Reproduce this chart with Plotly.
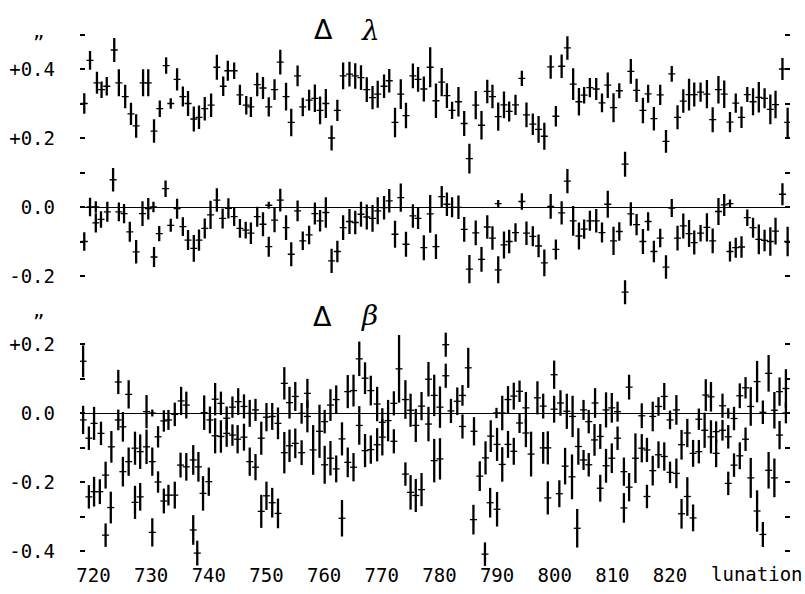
import plotly.graph_objects as go

# ---------------- Data ----------------
# Delta lambda, upper sequence
lam_up_lun = [718.4, 719.4, 720.6, 721.4, 722.3, 723.6, 724.4, 725.5, 726.5, 727.4, 728.6, 729.5, 730.5, 731.5,
              732.6, 733.4, 734.5, 735.5, 736.4, 737.4, 738.3, 739.3, 740.4, 741.4, 742.5, 743.3, 744.4, 745.4,
              746.5, 747.3, 748.4, 749.4, 750.4, 751.4, 752.4, 753.4, 754.3, 755.4, 756.3, 757.4, 758.4, 759.3,
              760.3, 761.3, 762.3, 763.3, 764.4, 765.4, 766.4, 767.4, 768.4, 769.3, 770.4, 771.3, 772.3, 773.3,
              774.2, 775.4, 776.3, 777.3, 778.4, 779.4, 780.4, 781.3, 782.2, 783.3, 784.3, 785.2, 786.3, 787.3,
              788.3, 789.2, 790.2, 791.2, 792.1, 793.2, 794.3, 795.1, 796.2, 797.2, 798.2, 799.3, 800.2, 801.2,
              802.2, 803.2, 804.2, 805.1, 806.1, 807.2, 808.2, 809.2, 810.2, 811.2, 812.2, 813.2, 814.2, 815.3,
              816.2, 817.2, 818.3, 819.3, 820.3, 821.3, 822.3, 823.3, 824.2, 825.3, 826.4, 827.4, 828.4, 829.4,
              830.4, 831.4, 832.4, 833.4, 834.4, 835.4, 836.4, 837.4, 838.3, 839.5, 840.4]
lam_up_val = [0.300, 0.425, 0.360, 0.340, 0.350, 0.455, 0.360, 0.320, 0.270, 0.235, 0.360, 0.360, 0.220, 0.285,
              0.410, 0.300, 0.370, 0.320, 0.300, 0.255, 0.260, 0.285, 0.295, 0.405, 0.350, 0.395, 0.395, 0.325,
              0.295, 0.290, 0.355, 0.345, 0.290, 0.340, 0.420, 0.320, 0.245, 0.380, 0.290, 0.310, 0.315, 0.280,
              0.300, 0.200, 0.280, 0.380, 0.385, 0.380, 0.375, 0.340, 0.317, 0.327, 0.350, 0.366, 0.245, 0.327,
              0.265, 0.380, 0.370, 0.342, 0.405, 0.308, 0.362, 0.323, 0.280, 0.305, 0.242, 0.140, 0.295, 0.237,
              0.335, 0.320, 0.262, 0.296, 0.277, 0.296, 0.373, 0.267, 0.240, 0.225, 0.205, 0.406, 0.263, 0.408,
              0.461, 0.356, 0.305, 0.324, 0.346, 0.342, 0.302, 0.353, 0.288, 0.337, 0.124, 0.393, 0.338, 0.280,
              0.328, 0.256, 0.325, 0.190, 0.386, 0.260, 0.307, 0.326, 0.326, 0.333, 0.327, 0.253, 0.340, 0.327,
              0.246, 0.301, 0.260, 0.326, 0.305, 0.318, 0.315, 0.283, 0.297, 0.400, 0.245]
lam_up_err = [0.030, 0.027, 0.032, 0.024, 0.027, 0.035, 0.039, 0.034, 0.032, 0.034, 0.039, 0.039, 0.034, 0.024,
              0.024, 0.015, 0.032, 0.029, 0.036, 0.036, 0.034, 0.034, 0.034, 0.036, 0.028, 0.029, 0.024, 0.029,
              0.027, 0.029, 0.034, 0.032, 0.028, 0.030, 0.036, 0.040, 0.040, 0.030, 0.027, 0.030, 0.040, 0.040,
              0.042, 0.036, 0.031, 0.039, 0.036, 0.037, 0.036, 0.036, 0.034, 0.039, 0.034, 0.034, 0.043, 0.043,
              0.037, 0.036, 0.036, 0.036, 0.058, 0.050, 0.041, 0.036, 0.025, 0.043, 0.036, 0.043, 0.041, 0.041,
              0.034, 0.034, 0.041, 0.039, 0.029, 0.029, 0.022, 0.036, 0.031, 0.039, 0.039, 0.034, 0.030, 0.034,
              0.034, 0.046, 0.040, 0.024, 0.028, 0.032, 0.027, 0.037, 0.042, 0.022, 0.036, 0.036, 0.034, 0.037,
              0.026, 0.034, 0.029, 0.033, 0.023, 0.035, 0.034, 0.046, 0.035, 0.028, 0.041, 0.036, 0.040, 0.040,
              0.029, 0.028, 0.031, 0.022, 0.039, 0.044, 0.029, 0.043, 0.040, 0.032, 0.043]

# Delta lambda, lower sequence
lam_lo_lun = [718.4, 719.4, 720.4, 720.4, 721.3, 722.4, 723.4, 724.4, 725.3, 726.3, 727.4, 728.5, 729.5, 730.4,
              730.5, 731.4, 732.5, 733.4, 734.5, 735.5, 736.4, 737.4, 738.3, 739.3, 740.3, 741.4, 742.4, 743.4,
              744.4, 745.4, 746.4, 747.3, 748.4, 749.4, 750.4, 750.4, 751.4, 752.4, 753.4, 754.3, 755.4, 756.3,
              757.4, 758.4, 759.3, 760.3, 761.3, 762.3, 763.3, 764.4, 765.4, 766.4, 767.4, 768.4, 769.3, 770.4,
              771.3, 772.3, 773.3, 774.2, 775.4, 776.3, 777.3, 778.4, 779.4, 780.4, 781.3, 782.2, 783.3, 784.3,
              785.2, 786.3, 787.3, 788.3, 789.2, 790.2, 790.2, 791.2, 792.1, 793.2, 794.3, 795.1, 796.2, 797.2,
              798.2, 799.3, 800.2, 801.2, 802.2, 803.2, 804.2, 805.1, 806.1, 807.2, 808.2, 809.2, 810.2, 811.2,
              812.2, 813.2, 814.2, 815.3, 816.2, 817.2, 818.3, 819.3, 820.3, 821.3, 822.3, 823.3, 824.2, 825.3,
              826.4, 827.4, 828.4, 829.4, 830.4, 830.4, 831.4, 832.4, 833.4, 834.4, 835.4, 836.4, 837.4, 838.3,
              839.5, 840.4]
lam_lo_val = [-0.100, 0.000, 0.000, -0.046, -0.036, -0.014, 0.079, -0.014, -0.019, -0.072, -0.130, -0.019, -0.005,
              0.000, -0.145, -0.077, 0.053, -0.053, -0.005, -0.057, -0.096, -0.120, -0.096, -0.062, -0.023, 0.020,
              -0.033, -0.004, -0.028, -0.062, -0.067, -0.076, -0.028, -0.050, 0.005, -0.115, -0.038, 0.020, -0.060,
              -0.137, -0.011, -0.098, -0.081, -0.019, -0.040, -0.016, -0.156, -0.129, -0.060, -0.042, -0.045, -0.021,
              -0.029, -0.033, -0.011, -0.002, 0.018, -0.079, 0.027, -0.108, -0.026, -0.033, -0.118, -0.020, -0.115,
              0.030, 0.008, -0.001, -0.001, -0.065, -0.180, -0.075, -0.152, -0.058, -0.090, -0.182, 0.010, -0.110,
              -0.100, -0.074, 0.016, -0.076, -0.085, -0.113, -0.162, 0.002, -0.123, -0.017, 0.075, -0.040, -0.084,
              -0.064, -0.040, -0.040, -0.074, 0.008, -0.098, -0.071, -0.247, -0.020, -0.051, -0.100, -0.042, -0.129,
              -0.090, -0.174, -0.003, -0.090, -0.055, -0.077, -0.103, -0.076, -0.059, -0.098, -0.013, 0.006, -0.129,
              0.010, -0.118, -0.116, -0.031, -0.060, -0.094, -0.097, -0.100, -0.070, 0.037, -0.100]
lam_lo_err = [0.027, 0.027, 0.017, 0.028, 0.024, 0.029, 0.034, 0.027, 0.028, 0.029, 0.034, 0.036, 0.031, 0.015,
              0.029, 0.022, 0.024, 0.019, 0.029, 0.027, 0.029, 0.039, 0.031, 0.029, 0.041, 0.034, 0.029, 0.029,
              0.027, 0.027, 0.024, 0.031, 0.029, 0.035, 0.010, 0.029, 0.035, 0.033, 0.036, 0.035, 0.030, 0.027,
              0.027, 0.032, 0.031, 0.044, 0.035, 0.031, 0.036, 0.036, 0.034, 0.036, 0.036, 0.039, 0.039, 0.034,
              0.034, 0.039, 0.041, 0.036, 0.034, 0.031, 0.036, 0.055, 0.036, 0.031, 0.034, 0.029, 0.034, 0.036,
              0.041, 0.036, 0.036, 0.034, 0.034, 0.039, 0.010, 0.039, 0.034, 0.027, 0.024, 0.034, 0.029, 0.033,
              0.039, 0.036, 0.029, 0.034, 0.035, 0.043, 0.039, 0.028, 0.029, 0.034, 0.029, 0.039, 0.041, 0.027,
              0.035, 0.034, 0.031, 0.036, 0.027, 0.031, 0.027, 0.034, 0.026, 0.036, 0.036, 0.039, 0.035, 0.024,
              0.041, 0.036, 0.039, 0.032, 0.029, 0.012, 0.029, 0.031, 0.024, 0.029, 0.043, 0.031, 0.041, 0.039,
              0.032, 0.043]

# Delta beta, upper sequence
bet_up_lun = [718.2, 719.2, 720.1, 721.3, 722.1, 723.1, 724.3, 725.1, 726.1, 727.2, 728.1, 729.2, 730.2, 731.2,
              732.2, 733.0, 734.1, 735.2, 736.1, 737.3, 738.2, 739.2, 740.2, 741.1, 742.1, 743.1, 744.1, 745.1,
              746.1, 747.1, 748.1, 749.1, 750.0, 751.0, 752.0, 753.1, 754.0, 755.0, 756.1, 757.1, 758.1, 759.2,
              760.1, 761.1, 762.1, 763.1, 764.1, 765.1, 766.1, 767.1, 768.1, 769.2, 770.1, 771.1, 772.1, 773.0,
              774.1, 775.0, 775.9, 776.9, 778.1, 779.1, 780.1, 781.1, 782.0, 783.1, 784.0, 785.0, 786.0, 787.0,
              788.0, 788.9, 789.9, 790.9, 791.9, 792.9, 793.9, 795.0, 795.9, 797.0, 798.0, 798.8, 799.9, 801.0,
              802.1, 803.1, 804.1, 805.0, 805.9, 807.0, 807.9, 808.9, 809.9, 810.9, 812.0, 812.9, 814.0, 815.1,
              816.0, 817.0, 818.0, 819.0, 820.0, 821.1, 822.0, 823.0, 824.0, 825.0, 826.2, 827.1, 828.0, 829.1,
              830.1, 831.1, 832.1, 833.1, 834.0, 835.1, 836.1, 837.1, 838.1, 839.0, 840.1]
bet_up_val = [0.150, -0.073, -0.030, -0.059, -0.180, -0.098, 0.090, -0.040, 0.054, -0.102, -0.112, 0.004, 0.000,
              -0.069, -0.023, -0.020, -0.004, 0.035, 0.023, -0.136, -0.156, 0.001, -0.020, 0.040, 0.028, -0.015,
              0.017, 0.033, 0.019, -0.001, 0.009, -0.073, -0.012, -0.010, -0.030, 0.086, 0.030, 0.048, -0.001,
              0.057, -0.107, -0.053, -0.025, 0.023, 0.039, -0.075, 0.062, 0.065, 0.157, 0.101, 0.065, 0.026,
              -0.027, -0.022, 0.028, 0.128, 0.039, 0.008, -0.036, 0.020, 0.098, 0.051, 0.017, 0.198, 0.006,
              0.034, 0.051, 0.131, -0.053, -0.183, -0.130, -0.067, 0.000, 0.000, 0.039, 0.049, 0.063, 0.015,
              -0.119, 0.044, 0.020, -0.101, 0.111, 0.029, 0.005, -0.010, -0.097, 0.009, -0.025, 0.029, -0.068,
              0.009, 0.015, 0.004, -0.170, 0.075, -0.131, -0.008, -0.107, -0.010, 0.019, 0.048, -0.020, 0.009,
              -0.092, -0.058, -0.117, -0.018, 0.052, 0.047, -0.054, 0.021, -0.001, -0.016, 0.050, 0.073, 0.019,
              0.091, 0.002, 0.115, 0.008, 0.062, 0.071]
bet_up_err = [0.046, 0.034, 0.048, 0.034, 0.039, 0.046, 0.035, 0.043, 0.041, 0.048, 0.050, 0.048, 0.010, 0.031,
              0.031, 0.029, 0.034, 0.041, 0.039, 0.043, 0.043, 0.050, 0.039, 0.047, 0.034, 0.034, 0.031, 0.039,
              0.035, 0.039, 0.032, 0.048, 0.041, 0.039, 0.046, 0.047, 0.046, 0.042, 0.030, 0.042, 0.072, 0.077,
              0.034, 0.046, 0.041, 0.048, 0.048, 0.046, 0.050, 0.046, 0.043, 0.050, 0.041, 0.060, 0.035, 0.098,
              0.056, 0.048, 0.048, 0.041, 0.050, 0.060, 0.060, 0.035, 0.035, 0.040, 0.030, 0.058, 0.041, 0.043,
              0.048, 0.046, 0.015, 0.050, 0.039, 0.039, 0.031, 0.046, 0.065, 0.048, 0.036, 0.048, 0.041, 0.037,
              0.051, 0.060, 0.053, 0.029, 0.034, 0.043, 0.036, 0.051, 0.043, 0.029, 0.041, 0.036, 0.072, 0.036,
              0.035, 0.043, 0.027, 0.039, 0.027, 0.043, 0.043, 0.041, 0.039, 0.031, 0.046, 0.043, 0.030, 0.035,
              0.015, 0.034, 0.036, 0.031, 0.056, 0.060, 0.034, 0.053, 0.053, 0.041, 0.056]

# Delta beta, lower sequence
bet_lo_lun = [718.2, 719.2, 720.1, 721.1, 722.1, 723.0, 724.3, 725.1, 726.1, 727.2, 728.1, 729.2, 730.2, 730.2,
              731.2, 732.2, 733.0, 734.1, 735.1, 736.1, 737.3, 738.0, 739.0, 740.0, 741.1, 742.1, 743.1, 744.1,
              745.0, 746.1, 747.1, 748.1, 749.1, 750.0, 751.0, 752.0, 753.1, 754.0, 755.0, 756.1, 757.1, 760.1,
              761.1, 762.1, 763.1, 764.1, 765.1, 766.1, 767.1, 768.1, 769.2, 770.1, 772.1, 774.1, 775.0, 775.9,
              776.9, 778.1, 779.1, 780.1, 781.1, 784.0, 785.9, 787.9, 788.8, 790.0, 790.0, 790.9, 791.9, 792.9,
              793.9, 795.0, 798.0, 798.8, 799.9, 800.8, 801.8, 803.0, 803.9, 805.0, 805.9, 806.9, 807.9, 808.9,
              809.9, 810.9, 812.0, 812.9, 815.1, 816.0, 817.0, 818.0, 819.0, 820.0, 821.1, 822.0, 823.0, 824.0,
              825.0, 826.0, 827.1, 828.0, 829.1, 830.1, 830.1, 831.1, 832.1, 833.1, 834.0, 835.1, 836.1, 837.1,
              838.1, 839.0, 840.1]
bet_lo_val = [-0.020, -0.243, -0.228, -0.228, -0.354, -0.274, -0.020, -0.170, -0.141, -0.259, -0.243, -0.098, -0.141,
              -0.346, -0.200, -0.255, -0.238, -0.238, -0.151, -0.156, -0.339, -0.406, -0.233, -0.199, -0.066, -0.068,
              -0.059, -0.064, -0.076, -0.070, -0.141, -0.157, -0.285, -0.240, -0.260, -0.291, -0.115, -0.095, -0.088,
              -0.115, -0.010, -0.150, -0.131, -0.162, -0.305, -0.143, -0.157, -0.036, -0.109, -0.106, -0.092, -0.070,
              -0.082, -0.177, -0.230, -0.239, -0.222, -0.032, -0.138, -0.133, 0.108, -0.039, -0.309, -0.409, -0.260,
              -0.091, -0.279, -0.149, -0.091, -0.111, -0.029, -0.058, -0.101, -0.246, 0.011, -0.234, -0.154, -0.185,
              -0.334, -0.136, -0.150, -0.078, -0.218, -0.153, -0.131, -0.073, -0.275, -0.215, -0.102, -0.242, -0.167,
              -0.121, -0.126, -0.172, -0.175, -0.292, -0.242, -0.304, -0.112, -0.050, -0.069, -0.117, -0.050, -0.069,
              -0.204, -0.151, -0.124, -0.076, -0.188, -0.284, -0.352, -0.166, -0.188, -0.064, 0.000]
bet_lo_err = [0.041, 0.034, 0.043, 0.036, 0.034, 0.046, 0.030, 0.043, 0.041, 0.048, 0.040, 0.050, 0.041, 0.041,
              0.031, 0.036, 0.030, 0.039, 0.036, 0.040, 0.043, 0.036, 0.050, 0.041, 0.051, 0.047, 0.039, 0.031,
              0.041, 0.039, 0.041, 0.038, 0.048, 0.041, 0.043, 0.043, 0.060, 0.047, 0.043, 0.036, 0.046, 0.055,
              0.050, 0.039, 0.053, 0.043, 0.041, 0.056, 0.048, 0.041, 0.048, 0.053, 0.035, 0.034, 0.050, 0.048,
              0.048, 0.050, 0.063, 0.060, 0.035, 0.035, 0.043, 0.034, 0.043, 0.048, 0.050, 0.050, 0.039, 0.039,
              0.029, 0.041, 0.046, 0.048, 0.039, 0.039, 0.053, 0.065, 0.056, 0.029, 0.034, 0.046, 0.039, 0.049,
              0.043, 0.034, 0.043, 0.041, 0.041, 0.034, 0.043, 0.039, 0.041, 0.031, 0.043, 0.043, 0.056, 0.039,
              0.034, 0.051, 0.048, 0.040, 0.030, 0.034, 0.034, 0.034, 0.039, 0.034, 0.058, 0.060, 0.036, 0.053,
              0.056, 0.041, 0.030]

x_tick_vals = [720, 730, 740, 750, 760, 770, 780, 790, 800, 810, 820]
x_tick_text = ["720", "730", "740", "750", "760", "770", "780", "790", "800", "810", "820"]
lam_tick_vals = [0.4, 0.2, 0.0, -0.2]
lam_tick_text = ["+0.4", "+0.2", "0.0", "-0.2"]
lam_minor_vals = [0.5, 0.3, 0.1, -0.1]
bet_tick_vals = [0.2, 0.0, -0.2, -0.4]
bet_tick_text = ["+0.2", "0.0", "-0.2", "-0.4"]
bet_minor_vals = [0.1, -0.1, -0.3]

# ---------------- Layout geometry ----------------
W, H = 805, 594
ML, MR, MT, MB = 80, 15, 20, 20
PW, PH = W - ML - MR, H - MT - MB

def px_x(px):
    return (px - ML) / PW

def px_y(py):
    return (H - MB - py) / PH

FONT = "DejaVu Sans Mono"
INK = "black"

fig = go.Figure()

def add_series(lun, val, err, yax):
    fig.add_trace(go.Scatter(
        x=lun, y=val, mode="markers", xaxis="x", yaxis=yax,
        marker=dict(symbol="line-ew", size=5, line=dict(width=1.3, color=INK), color=INK),
        error_y=dict(type="data", array=err, visible=True, color=INK, thickness=2.3, width=0),
        showlegend=False, hoverinfo="x+y",
    ))

add_series(lam_up_lun, lam_up_val, lam_up_err, "y")
add_series(lam_lo_lun, lam_lo_val, lam_lo_err, "y")
add_series(bet_up_lun, bet_up_val, bet_up_err, "y2")
add_series(bet_lo_lun, bet_lo_val, bet_lo_err, "y2")

yaxis_common = dict(
    showgrid=False, showline=False, ticks="inside", ticklen=5, tickwidth=1.5, tickcolor=INK,
    mirror="ticks", zeroline=True, zerolinecolor=INK, zerolinewidth=1.3, automargin=False,
    tickfont=dict(family=FONT, size=19, color=INK), ticklabelstandoff=24, anchor="x",
)

fig.update_layout(
    template="none",
    width=W, height=H,
    margin=dict(l=ML, r=MR, t=MT, b=MB, autoexpand=False),
    paper_bgcolor="white", plot_bgcolor="rgba(0,0,0,0)",
    xaxis=dict(range=[717.66, 840.81], domain=[0, 1], anchor="free", position=px_y(562),
               tickmode="array", tickvals=x_tick_vals, ticktext=x_tick_text, automargin=False,
               showgrid=False, showline=False, zeroline=False, ticks="",
               tickfont=dict(family=FONT, size=19, color=INK)),
    yaxis=dict(domain=[px_y(317.4), px_y(27.6)], range=[-0.32, 0.52],
               tickmode="array", tickvals=lam_tick_vals, ticktext=lam_tick_text,
               minor=dict(tickmode="array", tickvals=lam_minor_vals, ticks="inside", ticklen=5,
                          tickwidth=1.5, tickcolor=INK, showgrid=False),
               **yaxis_common),
    yaxis2=dict(domain=[px_y(570), px_y(268.1)], range=[-0.455, 0.42],
                tickmode="array", tickvals=bet_tick_vals, ticktext=bet_tick_text,
                minor=dict(tickmode="array", tickvals=bet_minor_vals, ticks="inside", ticklen=5,
                           tickwidth=1.5, tickcolor=INK, showgrid=False),
                **yaxis_common),
)

def label(text, px, py, size, family="DejaVu Sans"):
    return dict(text=text, x=px_x(px), y=px_y(py), xref="paper", yref="paper",
                xanchor="center", yanchor="middle", showarrow=False,
                font=dict(family=family, size=size, color=INK))

ann = [
    # arcsecond unit marks
    label("\u201d", 38, 44, 22),
    label("\u201d", 38, 322, 22),
    # panel titles
    label("\u0394", 323, 29, 27),
    label("<i>\u03bb</i>", 370, 30, 28, "DejaVu Serif"),
    label("\u0394", 322, 316, 27),
    label("<i>\u03b2</i>", 369, 315, 28, "DejaVu Serif"),
    # axis name
    label("lunation", 757, 574, 19, FONT),
]
fig.update_layout(annotations=ann)

fig.write_html("out.html", config={"displayModeBar": False},
               post_script="document.body.style.margin='0';document.body.style.overflow='hidden';")
